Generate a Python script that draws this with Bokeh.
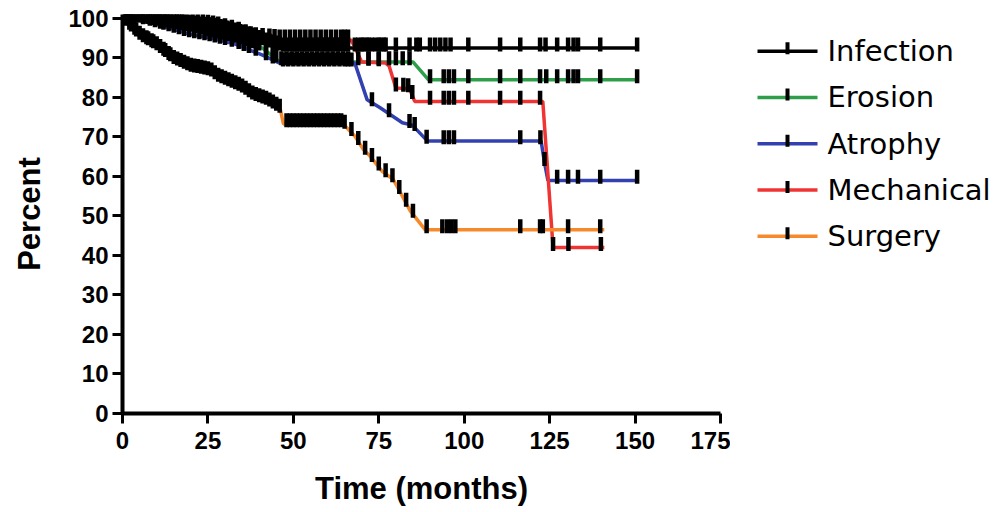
import numpy as np
from bokeh.plotting import figure
from bokeh.layouts import row
from bokeh.models import Range1d, FixedTicker, ColumnDataSource
from bokeh.core.properties import value
from bokeh.embed import file_html
from bokeh.resources import INLINE

series_names = ["Infection", "Erosion", "Atrophy", "Mechanical", "Surgery"]
series_colors = ["#000000", "#2e9e4a", "#3340b0", "#f03434", "#f5892c"]

infection_t = [0, 5, 8, 14, 20, 27, 33, 38, 42, 47, 151]
infection_pct = [100, 100, 99.4, 98.8, 98.1, 97.5, 96.3, 95, 93.8, 92.5, 92.5]
infection_censor = [0.5, 1, 1.5, 2, 2.5, 3, 4, 4.5, 5.5, 6, 6.5, 7.5, 8, 9, 10, 10.5, 11.5,
                    12, 13, 14, 15, 16, 16.5, 17.5, 18, 19, 19.5, 20.5, 21, 22, 23, 24,
                    24.5, 25.5, 26, 27, 27.5, 28.5, 29, 30, 30.5, 31.5, 32, 33, 34, 34.5,
                    35.5, 36, 37, 38, 39, 40, 41, 42, 43, 44, 45, 46, 47, 48, 49, 50, 50.5,
                    51.5, 52, 53, 53.5, 54.5, 55, 56, 57, 57.5, 58.5, 59, 60, 60.5, 61.5,
                    62, 63, 63.5, 64.5, 65, 66, 68, 69, 70, 70.5, 71.5, 72, 73, 74, 75,
                    75.5, 76.5, 77, 80, 84, 86, 87, 90, 91.5, 93, 94.5, 96, 101.2, 110.5,
                    116.4, 122.2, 123.8, 127.2, 130.4, 132, 133.3, 139.8, 150.6]

erosion_t = [0, 4, 10, 20, 26, 34, 41, 46, 85, 89.5, 151]
erosion_pct = [100, 100, 99, 97.5, 96.2, 94.5, 92.5, 89, 89, 84.5, 84.5]
erosion_censor = [1.5, 3, 5, 7, 9, 11, 12.5, 14, 15.5, 17, 18.5, 20, 21.5, 23, 25, 26.5, 28,
                  29.5, 31, 33, 35, 36.5, 38, 40, 42, 44, 45, 46.5, 48, 49.5, 51, 52.5, 54,
                  55.5, 57, 58.5, 60, 61.5, 63, 64.5, 66, 69, 72, 75, 78, 80, 82, 84, 90,
                  94, 95.5, 97, 101.2, 110.5, 116.4, 122.2, 124, 127.2, 130.4, 132, 133.3,
                  139.8, 150.6]

atrophy_t = [0, 3, 8, 14, 19, 26, 33, 41, 46, 68, 71.6, 75.4, 81.9, 84.8, 89.2, 122.5,
             123.5, 124.5, 151]
atrophy_pct = [100, 100, 99, 97.5, 96.2, 95, 93.5, 90.7, 88.7, 88.7, 79.4, 77.4, 73.6, 73,
               69, 69, 63.5, 59, 59]
atrophy_censor = [2, 4, 6, 8, 9.5, 11, 12, 13.5, 15, 16.5, 18, 19.5, 21, 22.5, 24, 25.5, 27,
                  28.5, 30, 32, 34, 35.5, 37, 39, 42, 44, 47, 48.5, 50, 51.5, 53, 54.5, 56,
                  57.5, 59, 60.5, 62, 63.5, 65, 66, 67, 73, 78, 84, 85.5, 89, 94, 95.5, 97,
                  116.4, 122.3, 123.5, 127.2, 130.4, 133.3, 139.8, 150.6]

mechanical_t = [0, 5, 10, 20, 26, 33, 38, 46, 67, 70, 77, 78, 80, 84, 85.5, 123, 126, 141]
mechanical_pct = [100, 100, 99.4, 98.8, 98.2, 96.8, 95.2, 94.5, 94.5, 89, 88.7, 88, 82.4,
                  82.2, 79, 79, 42, 42]
mechanical_censor = [1, 2.5, 3.5, 5, 6, 7.5, 8.5, 10, 11, 12.5, 13.5, 15, 16, 17.5, 19, 20.5,
                     22, 23.5, 25, 26.5, 28, 30, 32, 34, 36, 37.5, 39, 41, 43, 44.5, 46,
                     47.5, 49, 50.5, 52, 53.5, 55, 56.5, 58, 59.5, 61, 62.5, 64, 65, 66, 72,
                     75, 80, 82.2, 83.6, 84.8, 90, 94, 95.5, 97, 101.2, 110.5, 116.4, 122.2,
                     126, 130.5, 140]

surgery_t = [0, 2, 5.3, 10.2, 14.9, 19.9, 25.7, 27.8, 34.5, 38.3, 42.4, 46.2, 47.1, 64.6,
             68.1, 70.5, 72.5, 76, 79.2, 81.9, 84.2, 88.6, 141]
surgery_pct = [100, 98, 95.2, 92.7, 89.4, 87.4, 86.4, 84.9, 82.4, 80.2, 78.9, 76.9, 73.3,
               73.3, 70.1, 66.8, 65.1, 61.3, 59.3, 55, 51.3, 46.5, 46.5]
surgery_censor = [1, 2, 2.5, 3.5, 4, 5, 6, 7, 7.5, 8.5, 9, 10, 11, 12, 12.5, 13.5, 14, 15,
                  16, 17, 18, 19, 20, 21, 22, 23, 24, 25, 26, 27, 28, 29, 30, 31, 32, 33,
                  34, 35, 36, 37, 38, 39, 40, 41, 42, 43, 44, 45, 46, 48, 49, 50, 51, 52,
                  53, 54, 55, 56, 57, 58, 59, 60, 61, 62, 63, 64, 65, 67, 69, 71, 73, 75,
                  77, 79, 81, 83, 85, 89, 93.6, 95, 96.2, 97.4, 116.4, 122.2, 123, 130.4,
                  139.8]

x_ticks = [0, 25, 50, 75, 100, 125, 150, 175]
y_ticks = [0, 10, 20, 30, 40, 50, 60, 70, 80, 90, 100]

curves = [
    (infection_t, infection_pct, infection_censor),
    (erosion_t, erosion_pct, erosion_censor),
    (atrophy_t, atrophy_pct, atrophy_censor),
    (mechanical_t, mechanical_pct, mechanical_censor),
    (surgery_t, surgery_pct, surgery_censor),
]

H = 508
TOP, BOTTOM = 14, 92
p = figure(width=730, height=H, x_range=Range1d(0, 175), y_range=Range1d(0, 101),
           output_backend="svg", toolbar_location=None,
           min_border_left=122, min_border_right=10, min_border_top=TOP,
           min_border_bottom=BOTTOM)
p.outline_line_color = None
p.xgrid.visible = False
p.ygrid.visible = False
p.background_fill_color = "white"

font = "Liberation Sans"
for ax in (p.xaxis[0], p.yaxis[0]):
    ax.axis_line_width = 4
    ax.axis_line_color = "black"
    ax.major_tick_line_width = 3
    ax.major_tick_out = 10
    ax.major_tick_in = 0
    ax.minor_tick_line_color = None
    ax.major_label_text_font = font
    ax.major_label_text_font_style = "bold"
    ax.major_label_text_font_size = "24px"
    ax.major_label_text_color = "black"
    ax.axis_label_text_font = font
    ax.axis_label_text_font_style = "bold"
    ax.axis_label_text_font_size = "31px"
    ax.axis_label_text_color = "black"

p.xaxis.ticker = FixedTicker(ticks=x_ticks)
p.yaxis.ticker = FixedTicker(ticks=y_ticks)
p.xaxis.axis_label = "Time (months)"
p.yaxis.axis_label = "Percent"
p.xaxis.major_label_standoff = 8
p.yaxis.major_label_standoff = 4
p.xaxis.axis_label_standoff = 19
p.yaxis.axis_label_standoff = 18

for (t, pct, cen), col in zip(curves, series_colors):
    p.line(t, pct, line_color=col, line_width=3.5)

for (t, pct, cen), col in zip(curves, series_colors):
    cy = np.interp(cen, t, pct) + 0.9
    src = ColumnDataSource(dict(x=cen, y=cy))
    p.scatter("x", "y", source=src, marker="dash", angle=np.pi / 2, size=14,
              line_color="black", line_width=4.5)

# Legend drawn in its own panel; its frame is aligned with the main frame,
# so its y range is given in page pixels (downward) over the frame's extent.
LW = 260
lg = figure(width=LW, height=H, x_range=Range1d(0, LW), y_range=Range1d(H - BOTTOM, TOP),
            output_backend="svg", toolbar_location=None, title=None,
            x_axis_type=None, y_axis_type=None,
            min_border_left=0, min_border_right=0, min_border_top=TOP,
            min_border_bottom=BOTTOM)
lg.grid.visible = False
lg.outline_line_color = None

legend_top = 51
legend_step = 46.6
glyph_x0, glyph_x1, label_x = 27, 87, 97
rows_y = [legend_top + i * legend_step for i in range(len(series_names))]
lg.segment(x0=[glyph_x0] * len(rows_y), x1=[glyph_x1] * len(rows_y), y0=rows_y, y1=rows_y,
           line_color=series_colors, line_width=3.5)
lg.scatter(x=[(glyph_x0 + glyph_x1) / 2] * len(rows_y), y=[yy - 3 for yy in rows_y],
           marker="dash", angle=np.pi / 2, size=12, line_color="black", line_width=4)
lg.text(x=[label_x] * len(rows_y), y=rows_y, text=series_names,
        text_font=value("DejaVu Sans"), text_font_size="29px", text_color="black",
        text_baseline="middle", text_align="left")

layout = row(p, lg, spacing=0)
open("out.html", "w").write(file_html(layout, INLINE))
